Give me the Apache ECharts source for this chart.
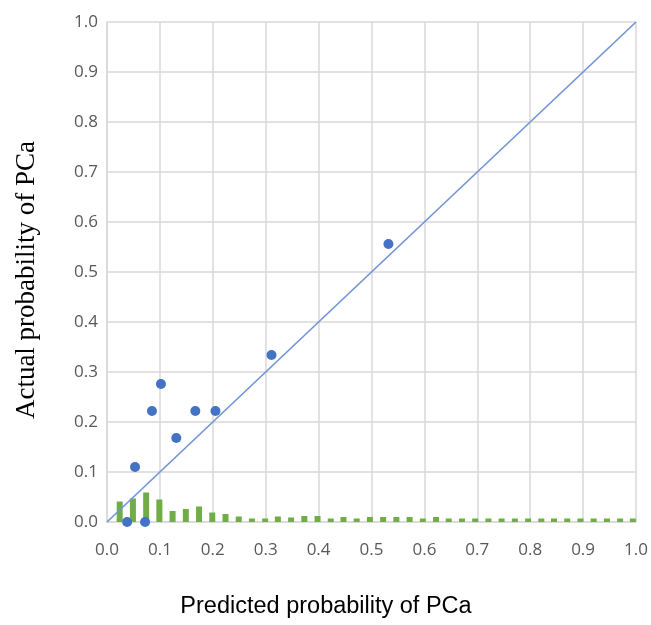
<!DOCTYPE html>
<html>
<head>
<meta charset="utf-8">
<script src="https://cdn.jsdelivr.net/npm/echarts@6/dist/echarts.min.js"></script>
<style>
  html, body { margin: 0; padding: 0; background: #fff; }
  #chart { width: 651px; height: 625px; }
</style>
</head>
<body>
<div id="chart"></div>
<script>
// calibration points: predicted vs actual
const predicted = [0.038, 0.072, 0.053, 0.085, 0.102, 0.131, 0.167, 0.205, 0.311, 0.532];
const actual = [0.0, 0.0, 0.11, 0.222, 0.276, 0.168, 0.222, 0.222, 0.334, 0.556];

// histogram of predictions (bin centres and heights)
const binCenters = [0.024, 0.049, 0.074, 0.099, 0.124, 0.149, 0.174, 0.199, 0.224, 0.249,
    0.274, 0.299, 0.323, 0.348, 0.373, 0.398, 0.423, 0.447, 0.472, 0.497,
    0.522, 0.547, 0.572, 0.597, 0.622, 0.646, 0.671, 0.696, 0.721, 0.746,
    0.771, 0.796, 0.821, 0.845, 0.870, 0.895, 0.920, 0.945, 0.970, 0.994];
const binHeights = [0.041, 0.047, 0.059, 0.045, 0.022, 0.026, 0.031, 0.019, 0.016, 0.011,
    0.007, 0.007, 0.011, 0.009, 0.012, 0.012, 0.007, 0.010, 0.007, 0.010,
    0.010, 0.010, 0.010, 0.007, 0.010, 0.007, 0.007, 0.007, 0.007, 0.007,
    0.007, 0.007, 0.007, 0.007, 0.007, 0.007, 0.007, 0.007, 0.007, 0.007];

const diagonal = [[0, 0], [1, 1]];

let points = [];
for (let i = 0; i < predicted.length; i++) {
    points.push([predicted[i], actual[i]]);
}
let bars = [];
for (let i = 0; i < binCenters.length; i++) {
    bars.push([binCenters[i], binHeights[i]]);
}

let chart = echarts.init(document.getElementById('chart'));
let labelStyle = {
    color: '#595959',
    fontSize: 17,
    fontFamily: 'Open Sans',
    formatter: function (v) { return v.toFixed(1); }
};
let option = {
    animation: false,
    grid: { left: 107, right: 15, top: 22, bottom: 103, outerBoundsMode: 'none' },
    graphic: [
        {
            type: 'text',
            x: 326,
            y: 607,
            style: {
                text: 'Predicted probability of PCa',
                fill: '#000',
                fontSize: 23.5,
                fontFamily: 'Liberation Sans',
                align: 'center',
                verticalAlign: 'middle'
            }
        },
        {
            type: 'text',
            x: 27,
            y: 280,
            rotation: Math.PI / 2,
            style: {
                text: 'Actual probability of PCa',
                fill: '#000',
                fontSize: 27,
                fontFamily: 'Liberation Serif',
                align: 'center',
                verticalAlign: 'middle'
            }
        }
    ],
    xAxis: {
        type: 'value',
        min: 0,
        max: 1,
        interval: 0.1,
        axisLine: { show: true, lineStyle: { color: '#d9d9d9', width: 1.5 } },
        axisTick: { show: false },
        axisLabel: Object.assign({ margin: 20 }, labelStyle),
        splitLine: { show: true, lineStyle: { color: '#d9d9d9', width: 1.5 } }
    },
    yAxis: {
        type: 'value',
        min: 0,
        max: 1,
        interval: 0.1,
        axisLine: { show: true, lineStyle: { color: '#d9d9d9', width: 1.5 } },
        axisTick: { show: false },
        axisLabel: Object.assign({ margin: 9 }, labelStyle),
        splitLine: { show: true, lineStyle: { color: '#d9d9d9', width: 1.5 } }
    },
    series: [
        {
            type: 'bar',
            data: bars,
            barWidth: 6,
            itemStyle: { color: '#70ad47' },
            z: 2
        },
        {
            type: 'line',
            data: diagonal,
            symbol: 'none',
            lineStyle: { color: '#7295d8', width: 1.7 },
            z: 3
        },
        {
            type: 'scatter',
            data: points,
            symbolSize: 10,
            itemStyle: { color: '#4472c4', opacity: 1 },
            z: 4
        }
    ]
};
chart.setOption(option);
</script>
</body>
</html>
